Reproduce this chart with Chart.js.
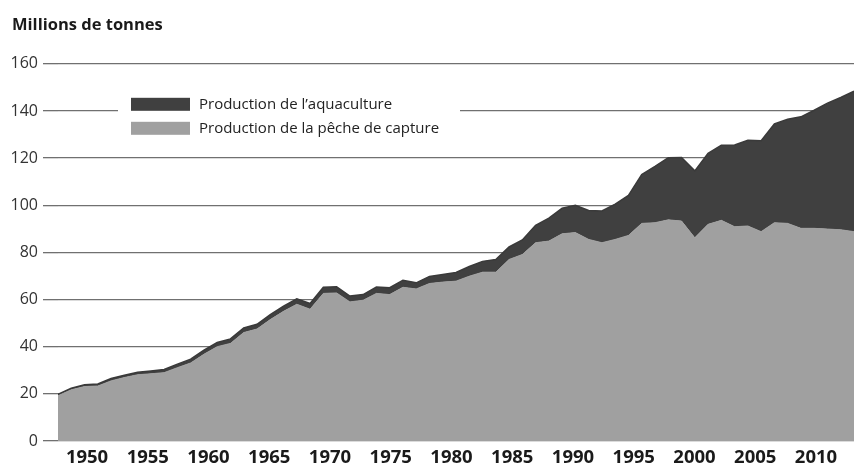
<!DOCTYPE html>
<html>
<head>
<meta charset="utf-8">
<title>Production mondiale</title>
<script src="https://cdn.jsdelivr.net/npm/chart.js@4.4.1/dist/chart.umd.min.js"></script>
<style>
    html, body { margin: 0; padding: 0; background: #fff; }
    #wrap { width: 854px; height: 465px; }
</style>
</head>
<body>
<div id="wrap"><canvas id="prodChart"></canvas></div>
<script>
// années 1950 - 2010
var years = [1950, 1951, 1952, 1953, 1954, 1955, 1956, 1957, 1958, 1959,
    1960, 1961, 1962, 1963, 1964, 1965, 1966, 1967, 1968, 1969,
    1970, 1971, 1972, 1973, 1974, 1975, 1976, 1977, 1978, 1979,
    1980, 1981, 1982, 1983, 1984, 1985, 1986, 1987, 1988, 1989,
    1990, 1991, 1992, 1993, 1994, 1995, 1996, 1997, 1998, 1999,
    2000, 2001, 2002, 2003, 2004, 2005, 2006, 2007, 2008, 2009,
    2010];

// pêche de capture (millions de tonnes)
var captureData = [19.2, 21.7, 23.1, 23.3, 25.5, 26.9, 28.1, 28.5, 29.0, 31.1,
    33.1, 36.8, 40.0, 41.4, 46.0, 47.5, 51.5, 55.0, 58.0, 55.9,
    62.6, 62.8, 59.0, 59.7, 62.6, 62.1, 65.2, 64.5, 66.8, 67.4,
    67.8, 69.9, 71.6, 71.6, 77.0, 79.1, 84.1, 84.8, 87.9, 88.4,
    85.5, 84.1, 85.5, 87.2, 92.3, 92.6, 93.8, 93.3, 86.2, 91.9,
    93.6, 90.9, 91.2, 88.8, 92.6, 92.3, 90.2, 90.2, 89.9, 89.6,
    88.8];

// aquaculture (millions de tonnes)
var aquacultureData = [0.6, 0.7, 0.8, 0.9, 1.0, 1.0, 1.1, 1.2, 1.3, 1.5,
    1.6, 1.7, 1.8, 1.9, 2.0, 2.0, 2.1, 2.2, 2.3, 2.4,
    2.6, 2.6, 2.5, 2.4, 2.7, 2.9, 3.0, 2.6, 3.0, 3.2,
    3.7, 4.1, 4.6, 5.4, 5.3, 6.2, 7.4, 9.7, 10.8, 11.6,
    12.3, 13.5, 15.0, 17.0, 20.7, 23.9, 26.4, 27.0, 28.4, 30.1,
    31.9, 34.7, 36.4, 38.6, 41.9, 44.2, 47.3, 50.1, 53.4, 56.1,
    59.6];

var yTicks = [0, 20, 40, 60, 80, 100, 120, 140, 160];
var xTickLabels = [1950, 1955, 1960, 1965, 1970, 1975, 1980, 1985, 1990, 1995, 2000, 2005, 2010];

var fontFamily = "'Open Sans', 'Noto Sans', sans-serif";

function toPoints(values) {
    return years.map(function (yr, i) { return { x: yr, y: values[i] }; });
}

// légende dans le graphique, sur fond blanc
var legendBox = {
    id: 'legendBox',
    afterDraw: function (chart) {
        var ctx = chart.ctx;
        var area = chart.chartArea;
        var left = area.left + 60;
        var top = area.top + 26;
        var items = chart.data.datasets.slice().reverse();

        ctx.save();
        ctx.fillStyle = '#fff';
        ctx.fillRect(left, top, 342, 52);

        ctx.font = '15px ' + fontFamily;
        ctx.textBaseline = 'middle';
        items.forEach(function (ds, i) {
            var cy = top + 15 + i * 24;
            ctx.fillStyle = ds.backgroundColor;
            ctx.fillRect(left + 13, cy - 7, 59, 13);
            ctx.fillStyle = '#222';
            ctx.fillText(ds.label, left + 81, cy);
        });
        ctx.restore();
    }
};

var ctx = document.getElementById('prodChart').getContext('2d');
new Chart(ctx, {
    type: 'line',
    data: {
        datasets: [
            {
                label: 'Production de la pêche de capture',
                data: toPoints(captureData),
                backgroundColor: '#a0a0a0',
                borderColor: '#a0a0a0',
                borderWidth: 1,
                fill: 'origin',
                pointRadius: 0,
                tension: 0,
                xAxisID: 'x',
                yAxisID: 'y'
            },
            {
                label: 'Production de l\u2019aquaculture',
                data: toPoints(aquacultureData),
                backgroundColor: '#404040',
                borderColor: '#3a3a3a',
                borderWidth: 1.5,
                fill: '-1',
                pointRadius: 0,
                tension: 0,
                xAxisID: 'x',
                yAxisID: 'y'
            }
        ]
    },
    options: {
        responsive: true,
        maintainAspectRatio: false,
        animation: false,
        events: [],
        layout: { padding: { left: 12, right: 0, top: 0, bottom: 0 } },
        plugins: {
            legend: { display: false },
            tooltip: { enabled: false },
            title: {
                display: true,
                text: 'Millions de tonnes',
                align: 'start',
                color: '#1a1a1a',
                font: { family: fontFamily, size: 16.5, weight: 'bold', lineHeight: 1.2 },
                padding: { top: 15, bottom: 29 }
            }
        },
        scales: {
            x: {
                type: 'linear',
                display: false,
                min: 1950,
                max: 2010
            },
            // axe des années affichées (légèrement décalé comme dans l'original)
            xLabels: {
                type: 'linear',
                position: 'bottom',
                min: 1947.61,
                max: 2013.13,
                afterBuildTicks: function (scale) {
                    scale.ticks = xTickLabels.map(function (v) { return { value: v }; });
                },
                afterFit: function (scale) { scale.height = 24; },
                grid: { display: false, drawTicks: false },
                border: { display: false },
                ticks: {
                    autoSkip: false,
                    maxRotation: 0,
                    padding: 7,
                    color: '#1a1a1a',
                    font: { family: fontFamily, size: 18.5, weight: 'bold', lineHeight: 1 },
                    callback: function (v) { return String(v); }
                }
            },
            y: {
                stacked: true,
                min: 0,
                max: 160,
                afterBuildTicks: function (scale) {
                    scale.ticks = yTicks.map(function (v) { return { value: v }; });
                },
                afterFit: function (scale) { scale.width = 46; },
                grid: {
                    color: '#707070',
                    tickColor: '#707070',
                    lineWidth: 1.3,
                    tickLength: 15
                },
                border: { display: false },
                ticks: {
                    padding: 5,
                    color: '#333',
                    font: { family: fontFamily, size: 16 },
                    callback: function (v) { return String(v); }
                }
            }
        }
    },
    plugins: [legendBox]
});
</script>
</body>
</html>
